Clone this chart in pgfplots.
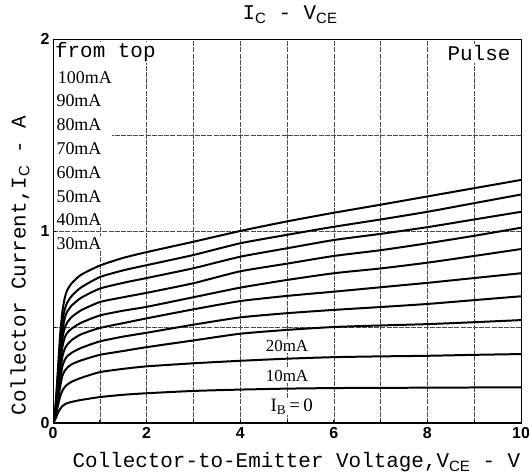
\documentclass[border=0pt]{standalone}
\usepackage{pgfplots}
\pgfplotsset{compat=1.18}
\usepackage{fontspec}
\setmainfont{Liberation Serif}
\newfontfamily\mono{Liberation Mono}
\newfontfamily\sans{Liberation Sans}
\newcommand{\sub}[1]{\raisebox{-0.35ex}{\sans\fontsize{15}{15}\selectfont #1}}
\pgfplotstableread{
x     a100  a90   a80   a70   a60   a50   a40   a30   a20   a10
0     0     0     0     0     0     0     0     0     0     0
0.05  0.08  0.07  0.06  0.055 0.05  0.045 0.04  0.035 0.028 0.02
0.1   0.26  0.23  0.21  0.19  0.17  0.15  0.13  0.11  0.085 0.05
0.15  0.45  0.41  0.37  0.33  0.30  0.26  0.225 0.185 0.135 0.072
0.2   0.58  0.53  0.48  0.44  0.395 0.345 0.295 0.245 0.168 0.088
0.25  0.65  0.59  0.545 0.495 0.445 0.385 0.328 0.272 0.187 0.097
0.3   0.69  0.625 0.578 0.522 0.468 0.407 0.347 0.287 0.199 0.103
0.4   0.728 0.662 0.612 0.552 0.492 0.432 0.366 0.306 0.215 0.11
0.6   0.772 0.706 0.652 0.587 0.522 0.462 0.391 0.326 0.235 0.12
1     0.82  0.76  0.70  0.63  0.56  0.495 0.425 0.355 0.265 0.135
1.5   0.86  0.795 0.73  0.655 0.585 0.52  0.45  0.375 0.282 0.147
2     0.89  0.822 0.755 0.678 0.605 0.545 0.47  0.395 0.295 0.155
3     0.944 0.875 0.806 0.728 0.655 0.592 0.512 0.43  0.311 0.167
4     1.00  0.936 0.866 0.79  0.705 0.635 0.55  0.465 0.324 0.174
5     1.05  0.98  0.91  0.83  0.745 0.662 0.572 0.485 0.335 0.179
6     1.095 1.022 0.953 0.87  0.78  0.684 0.589 0.50  0.343 0.182
7     1.137 1.06  0.985 0.90  0.805 0.707 0.604 0.508 0.347 0.183
8     1.18  1.10  1.02  0.936 0.835 0.73  0.62  0.515 0.35  0.184
9     1.223 1.145 1.06  0.975 0.87  0.755 0.64  0.525 0.355 0.185
10    1.266 1.19  1.10  1.017 0.906 0.78  0.66  0.536 0.359 0.186
}\curves
\pgfplotsset{curve/.style={black, no markers, solid, line width=2pt, line join=round, line cap=round, smooth, tension=0.35}}
\begin{document}
\begin{tikzpicture}
\useasboundingbox (-53bp,-53bp) rectangle (476bp,423bp);
\begin{axis}[
  at={(0,0)}, anchor=south west,
  scale only axis, width=468bp, height=384bp,
  xmin=0, xmax=10, ymin=0, ymax=2,
  xtick={0,1,...,10}, xticklabels={0,,2,,4,,6,,8,,10},
  ytick={0,0.5,1,1.5,2}, yticklabels={0,,1,,2},
  /pgf/number format/assume math mode=true,
  tick label style={font=\sans\bfseries\fontsize{16}{16}\selectfont},
  xticklabel style={yshift=-1bp},
  major tick length=3pt, tick style={black, line width=0.8pt},
  xtick pos=bottom, ytick pos=left,
  grid=major,
  grid style={black!70, line width=0.5pt, dash pattern=on 5pt off 1.2pt},
  axis line style={black, line width=0.9pt},
  title={\mono\fontsize{21}{21}\selectfont I\sub{C} - V\sub{CE}},
  title style={at={(axis description cs:0.506,1)}, anchor=center, yshift=18bp},
  xlabel={\mono\fontsize{21}{21}\selectfont Collector-to-Emitter Voltage,V\sub{CE} - V},
  ylabel={\mono\fontsize{21}{21}\selectfont Collector Current,I\sub{C} - A},
  xlabel style={at={(axis description cs:0.52,0)}, anchor=center, yshift=-39bp},
  ylabel style={at={(axis description cs:-0.0705,0.41)}, anchor=center},
]
\addplot[curve] table[x=x, y=a100] {\curves};
\addplot[curve] table[x=x, y=a90] {\curves};
\addplot[curve] table[x=x, y=a80] {\curves};
\addplot[curve] table[x=x, y=a70] {\curves};
\addplot[curve] table[x=x, y=a60] {\curves};
\addplot[curve] table[x=x, y=a50] {\curves};
\addplot[curve] table[x=x, y=a40] {\curves};
\addplot[curve] table[x=x, y=a30] {\curves};
\addplot[curve] table[x=x, y=a20] {\curves};
\addplot[curve] table[x=x, y=a10] {\curves};
\fill[white] (axis cs:0.03,1.02) rectangle (axis cs:1.27,1.985);
\draw[black, line width=1.8pt] (rel axis cs:0,1) -- (rel axis cs:0,0) -- (rel axis cs:1,0);
\begin{scope}[every node/.style={anchor=west, fill=white, inner sep=1pt, font=\fontsize{18}{18}\selectfont}]
\node[font=\mono\fontsize{21}{21}\selectfont] at (axis cs:0.02,1.93) {from top};
\node at (axis cs:0.08,1.80) {100mA};
\node at (axis cs:0.05,1.68) {90mA};
\node at (axis cs:0.05,1.555) {80mA};
\node at (axis cs:0.05,1.43) {70mA};
\node at (axis cs:0.05,1.305) {60mA};
\node at (axis cs:0.05,1.18) {50mA};
\node at (axis cs:0.05,1.06) {40mA};
\node at (axis cs:0.05,0.935) {30mA};
\end{scope}
\node[anchor=east, fill=white, inner sep=2pt, font=\mono\fontsize{21}{21}\selectfont] at (axis cs:9.82,1.925) {Pulse};
\node[fill=white, inner sep=1pt, font=\fontsize{17}{17}\selectfont] at (axis cs:5.0,0.40) {20mA};
\node[fill=white, inner sep=1pt, font=\fontsize{17}{17}\selectfont] at (axis cs:5.0,0.245) {10mA};
\node[fill=white, inner sep=1pt, font=\fontsize{19}{19}\selectfont] at (axis cs:5.1,0.085) {I\textsubscript{B}\,=\,0};
\end{axis}
\end{tikzpicture}
\end{document}
